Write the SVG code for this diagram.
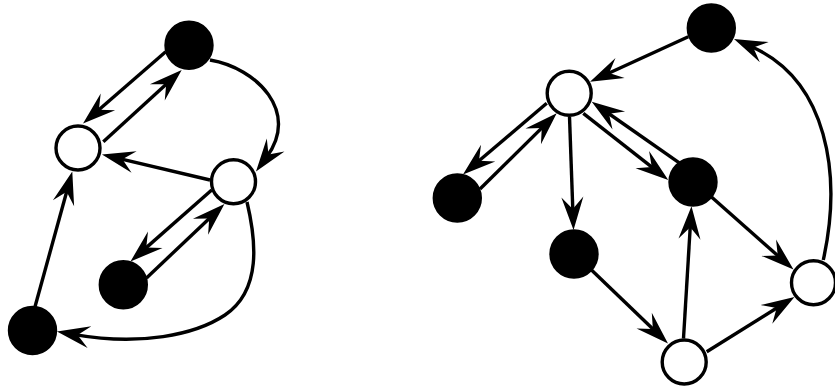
<svg xmlns="http://www.w3.org/2000/svg" width="835" height="389" viewBox="0 0 835 389">
<style>
.e{fill:none;stroke:#000;stroke-width:3.4;marker-end:url(#ah)}
.b{fill:#000;stroke:#000;stroke-width:3.4}
.w{fill:#fff;stroke:#000;stroke-width:3.4}
</style>
<defs>
<marker id="ah" viewBox="-35 -13 36 26" refX="-18" refY="0" markerWidth="36" markerHeight="26" markerUnits="userSpaceOnUse" orient="auto" overflow="visible">
<path d="M0,0 L-33,-11 L-21,0 L-33,11 Z" fill="#000"/>
</marker>
</defs>
<rect width="835" height="389" fill="#fff"/>
<g id="connectors">
<path class="e" d="M165.7,51.7 L96.6,111.7"/>
<path class="e" d="M103.3,141.7 L168.4,82.2"/>
<path class="e" d="M210,180 L119.5,158.6"/>
<path class="e" d="M211.7,190 L144,249.6"/>
<path class="e" d="M146.5,278 L211.4,216.4"/>
<path class="e" d="M35,306.7 L67.5,188.8"/>
<path class="e" d="M210,60 C257,68 300,112 266.7,157"/>
<path class="e" d="M247,202 C256,240 262,290 225,315 C195,335 140,346 74.7,334.6"/>
<path class="e" d="M688.3,36.7 L606.4,74.2"/>
<path class="e" d="M546.7,103.3 L476.7,162.8"/>
<path class="e" d="M480,189 L543.9,125.9"/>
<path class="e" d="M569.5,116.8 L572.9,212"/>
<path class="e" d="M680,163.3 L606.5,112"/>
<path class="e" d="M583.3,113.3 L654.1,168.9"/>
<path class="e" d="M711.5,197 L780,257.6"/>
<path class="e" d="M591.5,270 L655,331"/>
<path class="e" d="M683.5,338.5 L690.4,224.2"/>
<path class="e" d="M706.7,351.7 L779.2,306.5"/>
<path class="e" d="M823.3,260 C842,175 828,80 750.5,46.2"/>
</g>
<g id="nodeA"><circle class="b" cx="189" cy="45.3" r="23"/></g>
<g id="nodeB"><circle class="w" cx="78" cy="148" r="22"/></g>
<g id="nodeC"><circle class="w" cx="233.5" cy="181.7" r="22"/></g>
<g id="nodeD"><circle class="b" cx="123.3" cy="284.7" r="23"/></g>
<g id="nodeE"><circle class="b" cx="32.5" cy="330.5" r="23"/></g>
<g id="nodeF"><circle class="b" cx="711.3" cy="28" r="23"/></g>
<g id="nodeG"><circle class="w" cx="569.2" cy="93.3" r="22"/></g>
<g id="nodeH"><circle class="b" cx="457.3" cy="198" r="23"/></g>
<g id="nodeI"><circle class="b" cx="693" cy="182" r="23"/></g>
<g id="nodeJ"><circle class="b" cx="574" cy="254" r="23"/></g>
<g id="nodeK"><circle class="w" cx="813.5" cy="282.7" r="22"/></g>
<g id="nodeL"><circle class="w" cx="684.2" cy="362" r="22"/></g>
</svg>
